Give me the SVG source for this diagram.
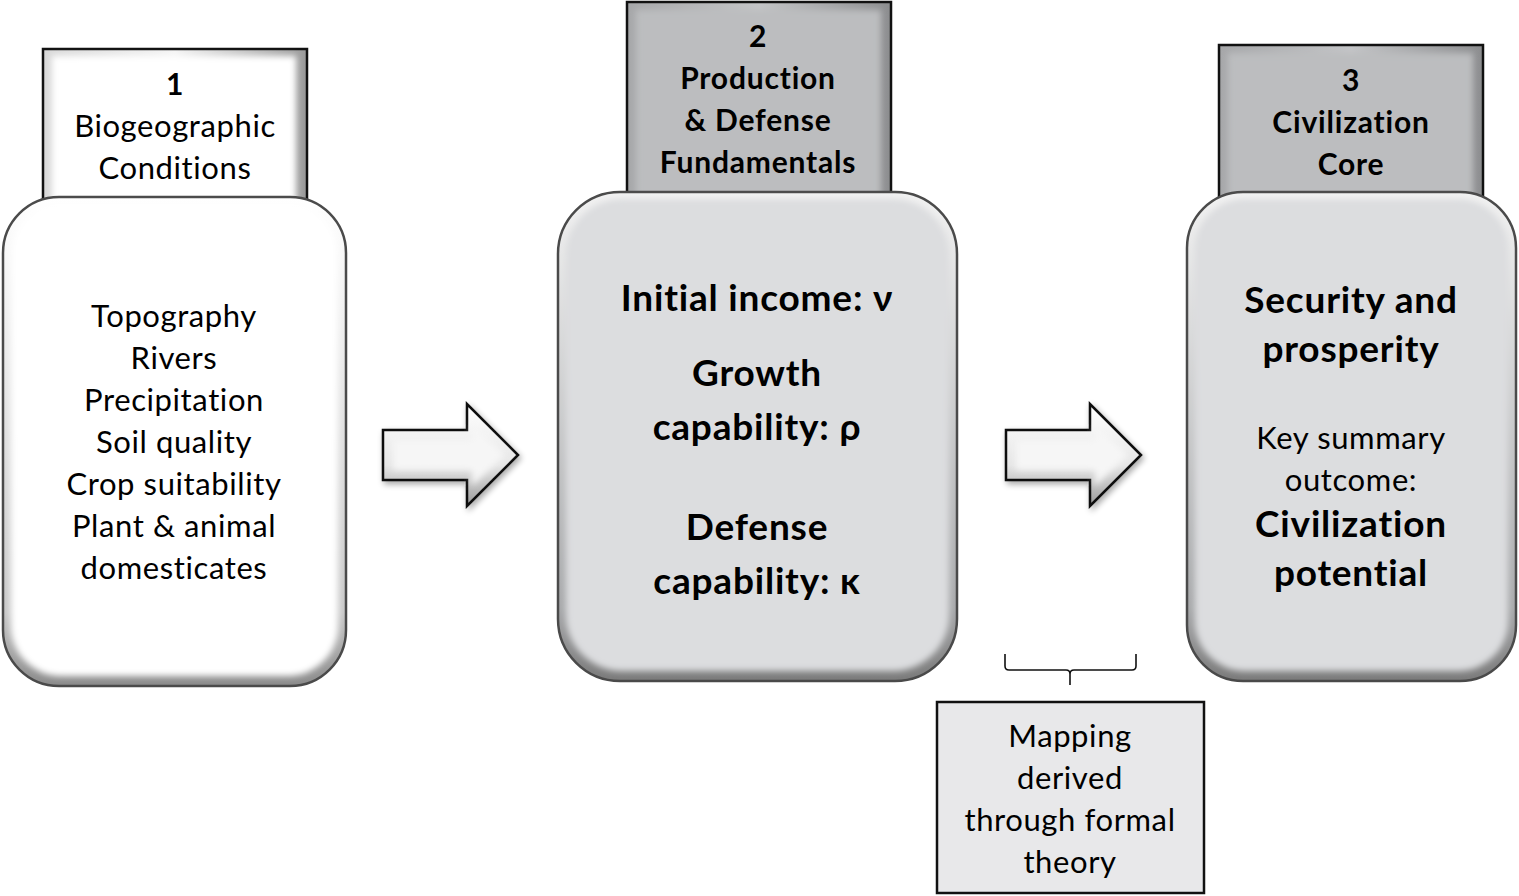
<svg xmlns="http://www.w3.org/2000/svg" width="1519" height="896" viewBox="0 0 1519 896">
<style>
.t{font-family:Lato,"Liberation Sans",sans-serif;fill:#000;text-anchor:middle;font-variant-ligatures:none}
.r{font-size:31px;letter-spacing:0.6px}
.b{font-size:30px;font-weight:bold;letter-spacing:0.8px}
.bb{font-size:37px;font-weight:bold;letter-spacing:0.8px}
.hdr{stroke:#111;stroke-width:2.5}
.main{stroke:#4a4a4a;stroke-width:2.5}
</style>
<defs>
<linearGradient id="gW" x1="0" y1="0" x2="0" y2="1"><stop offset="0" stop-color="#ffffff"/><stop offset="0.85" stop-color="#c8c8c8"/><stop offset="1" stop-color="#8a8a8a"/></linearGradient>
<linearGradient id="gG" x1="0" y1="0" x2="0" y2="1"><stop offset="0" stop-color="#f2f2f2"/><stop offset="0.85" stop-color="#a8a9ab"/><stop offset="1" stop-color="#7a7a7a"/></linearGradient>
<linearGradient id="hW" x1="0" y1="0" x2="1" y2="0"><stop offset="0" stop-color="#d8d8d8"/><stop offset="0.5" stop-color="#f4f4f4"/><stop offset="1" stop-color="#9a9a9a"/></linearGradient>
<linearGradient id="hG" x1="0" y1="0" x2="1" y2="0"><stop offset="0" stop-color="#a6a7a9"/><stop offset="0.5" stop-color="#c4c5c7"/><stop offset="1" stop-color="#8c8d8f"/></linearGradient>
<linearGradient id="aG" x1="0" y1="0" x2="0" y2="1"><stop offset="0" stop-color="#ffffff"/><stop offset="0.6" stop-color="#e6e6e6"/><stop offset="1" stop-color="#9a9a9a"/></linearGradient>
<filter id="bl" x="-5%" y="-5%" width="110%" height="110%"><feGaussianBlur stdDeviation="3"/></filter>
<filter id="sh" x="-10%" y="-10%" width="130%" height="130%"><feGaussianBlur in="SourceAlpha" stdDeviation="3"/><feOffset dx="2" dy="3"/><feComponentTransfer><feFuncA type="linear" slope="0.35"/></feComponentTransfer><feMerge><feMergeNode/><feMergeNode in="SourceGraphic"/></feMerge></filter>
</defs>

<g id="node1">
  <rect class="hdr" x="43" y="49" width="264" height="160" fill="url(#hW)"/>
  <rect x="52" y="56" width="244" height="150" fill="#ffffff" filter="url(#bl)"/>
  <text class="t b" x="175" y="95">1</text>
  <text class="t r" x="175" y="137">Biogeographic</text>
  <text class="t r" x="175" y="179">Conditions</text>
  <rect class="main" x="3" y="197" width="343" height="489" rx="56" fill="url(#gW)"/>
  <rect x="11" y="204" width="327" height="472" rx="50" fill="#ffffff" filter="url(#bl)"/>
  <text class="t r" x="174" y="327">Topography</text>
  <text class="t r" x="174" y="369">Rivers</text>
  <text class="t r" x="174" y="411">Precipitation</text>
  <text class="t r" x="174" y="453">Soil quality</text>
  <text class="t r" x="174" y="495">Crop suitability</text>
  <text class="t r" x="174" y="537">Plant &amp; animal</text>
  <text class="t r" x="174" y="579">domesticates</text>
</g>

<g id="node2">
  <rect class="hdr" x="627" y="2" width="264" height="205" fill="url(#hG)"/>
  <rect x="636" y="10" width="245" height="195" fill="#bcbdbf" filter="url(#bl)"/>
  <text class="t b" x="758" y="47">2</text>
  <text class="t b" x="758" y="89">Production</text>
  <text class="t b" x="758" y="131">&amp; Defense</text>
  <text class="t b" x="758" y="173">Fundamentals</text>
  <rect class="main" x="558" y="192" width="399" height="489" rx="62" fill="url(#gG)"/>
  <rect x="566" y="199" width="383" height="472" rx="56" fill="#dcdddf" filter="url(#bl)"/>
  <text class="t bb" x="757" y="311">Initial income: ν</text>
  <text class="t bb" x="757" y="386">Growth</text>
  <text class="t bb" x="757" y="440">capability: ρ</text>
  <text class="t bb" x="757" y="540">Defense</text>
  <text class="t bb" x="757" y="594">capability: κ</text>
</g>

<g id="node3">
  <rect class="hdr" x="1219" y="45" width="264" height="160" fill="url(#hG)"/>
  <rect x="1228" y="53" width="245" height="150" fill="#bcbdbf" filter="url(#bl)"/>
  <text class="t b" x="1351" y="91">3</text>
  <text class="t b" x="1351" y="133">Civilization</text>
  <text class="t b" x="1351" y="175">Core</text>
  <rect class="main" x="1187" y="192" width="329" height="489" rx="56" fill="url(#gG)"/>
  <rect x="1195" y="199" width="313" height="472" rx="50" fill="#dcdddf" filter="url(#bl)"/>
  <text class="t bb" x="1351" y="313">Security and</text>
  <text class="t bb" x="1351" y="362">prosperity</text>
  <text class="t r" x="1351" y="449">Key summary</text>
  <text class="t r" x="1351" y="491">outcome:</text>
  <text class="t bb" x="1351" y="537">Civilization</text>
  <text class="t bb" x="1351" y="586">potential</text>
</g>

<g id="node4">
  <rect x="937" y="702" width="267" height="191" fill="#e8e8ea" stroke="#111" stroke-width="2.5"/>
  <text class="t r" x="1070" y="747">Mapping</text>
  <text class="t r" x="1070" y="789">derived</text>
  <text class="t r" x="1070" y="831">through formal</text>
  <text class="t r" x="1070" y="873">theory</text>
</g>

<g id="connectors">
  <g filter="url(#sh)">
    <polygon points="383,430 467,430 467,404 518,455 467,506 467,480 383,480" fill="url(#aG)" stroke="#111" stroke-width="2.5" stroke-linejoin="miter"/>
    <polygon points="393,440 472,440 472,424 505,455 472,486 472,470 393,470" fill="#f6f6f6" filter="url(#bl)"/>
  </g>
  <g filter="url(#sh)">
    <polygon points="1006,430 1090,430 1090,404 1141,455 1090,506 1090,480 1006,480" fill="url(#aG)" stroke="#111" stroke-width="2.5" stroke-linejoin="miter"/>
    <polygon points="1016,440 1095,440 1095,424 1128,455 1095,486 1095,470 1016,470" fill="#f6f6f6" filter="url(#bl)"/>
  </g>
  <path d="M1005,654 L1005,666 Q1005,670 1009,670 L1066,670 Q1070,670 1070,674 L1070,685 M1070,674 Q1070,670 1074,670 L1132,670 Q1136,670 1136,666 L1136,654" fill="none" stroke="#111" stroke-width="1.6"/>
</g>
</svg>
